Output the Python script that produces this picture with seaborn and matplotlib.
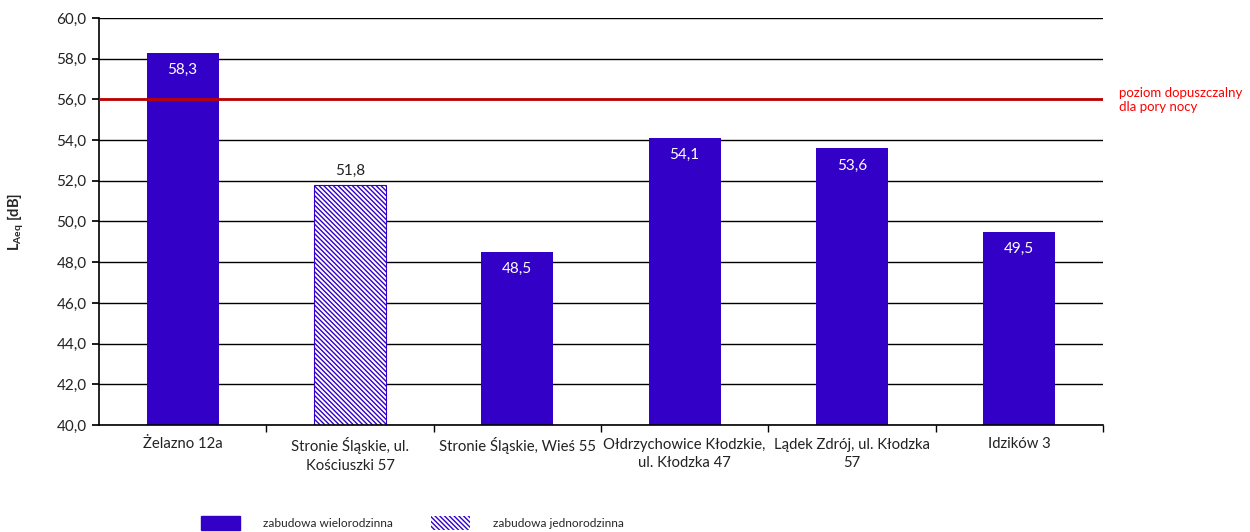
import matplotlib
matplotlib.use("Agg")
import matplotlib.pyplot as plt
import seaborn as sns
import pandas as pd
from matplotlib.patches import Patch
from matplotlib.ticker import FixedLocator

categories = ["Żelazno 12a", "Stronie Śląskie, ul.\nKościuszki 57", "Stronie Śląskie, Wieś 55",
              "Ołdrzychowice Kłodzkie,\nul. Kłodzka 47", "Lądek Zdrój, ul. Kłodzka\n57", "Idzików 3"]
values = [58.3, 51.8, 48.5, 54.1, 53.6, 49.5]
types = ["zabudowa wielorodzinna", "zabudowa jednorodzinna", "zabudowa wielorodzinna",
         "zabudowa wielorodzinna", "zabudowa wielorodzinna", "zabudowa wielorodzinna"]
limit_value = 56.0
limit_label = "poziom dopuszczalny\ndla pory nocy"
y_ticks = [40, 42, 44, 46, 48, 50, 52, 54, 56, 58, 60]

sns.set_theme(style="white")
plt.rcParams['font.family'] = ['Lato', 'DejaVu Sans']
plt.rcParams['mathtext.fontset'] = 'custom'
plt.rcParams['mathtext.bf'] = 'Lato:bold'
plt.rcParams['mathtext.rm'] = 'Lato'
plt.rcParams['hatch.color'] = '#3300CC'
plt.rcParams['hatch.linewidth'] = 1.0

blue = '#3300C8'
hatch = '\\\\\\\\\\\\\\'
df = pd.DataFrame({"cat": categories, "val": values, "typ": types})

fig = plt.figure(figsize=(12.5, 5.32), dpi=100)
ax = fig.add_axes([99/1250, 1-425/532, (1103-99)/1250, (425-18)/532])

sns.barplot(data=df, x="cat", y="val", color=blue, width=0.43, ax=ax,
            saturation=1, legend=False, errorbar=None)

for patch, t in zip(ax.patches, types):
    patch.set_linewidth(0)
    if t == "zabudowa jednorodzinna":
        patch.set_facecolor('white')
        patch.set_hatch(hatch)
        patch.set_edgecolor(blue)
        patch.set_linewidth(0.8)

ax.set_ylim(40, 60)
ax.set_xlim(-0.5, len(categories) - 0.5)
ax.set_yticks(y_ticks)
ax.set_yticklabels([f"{v:.1f}".replace('.', ',') for v in y_ticks], fontsize=11, color='#222222')
ax.yaxis.grid(True, color='black', linewidth=1)
ax.set_axisbelow(True)
ax.set_xticks(range(len(categories)))
ax.set_xticklabels(categories, fontsize=10.7, color='#222222', linespacing=1.38)
ax.tick_params(axis='x', length=0, pad=9)
ax.tick_params(axis='y', length=5, direction='out', pad=4, left=True, color='black')
ax.xaxis.set_minor_locator(FixedLocator([i + 0.5 for i in range(len(categories))]))
ax.tick_params(axis='x', which='minor', length=5, direction='out', color='black', bottom=True)
for s in ['top', 'right']:
    ax.spines[s].set_visible(False)
for s in ['left', 'bottom']:
    ax.spines[s].set_color('black')
    ax.spines[s].set_linewidth(1.2)
ax.set_xlabel("")
ax.set_ylabel(r"$\mathbf{L}_{\mathbf{Aeq}}$ [dB]", fontsize=10.5, fontweight='bold', labelpad=22)

ax.axhline(limit_value, color='#C00000', linewidth=2.0, zorder=5)
ax.text(1.016, (limit_value - 40) / 20 - 0.002, limit_label, transform=ax.transAxes,
        color='#FF0000', fontsize=9.5, va='center', ha='left', linespacing=1.25)

for i, (v, t) in enumerate(zip(values, types)):
    lab = f"{v:.1f}".replace('.', ',')
    if t == "zabudowa jednorodzinna":
        ax.text(i, v + 0.35, lab, ha='center', va='bottom', fontsize=11, color='#222222')
    else:
        ax.text(i, v - 0.85, lab, ha='center', va='center', fontsize=11, color='white', zorder=6)

handles = [Patch(facecolor=blue, edgecolor=blue, label="zabudowa wielorodzinna"),
           Patch(facecolor='white', edgecolor=blue, hatch=hatch, linewidth=0,
                 label="zabudowa jednorodzinna")]
fig.legend(handles=handles, loc='lower left', bbox_to_anchor=(190/1250, -9/532), ncol=2,
           frameon=False, fontsize=8.6, handlelength=3.3, handleheight=1.5, columnspacing=3.2,
           handletextpad=1.9)

fig.savefig("out.png", dpi=100)
